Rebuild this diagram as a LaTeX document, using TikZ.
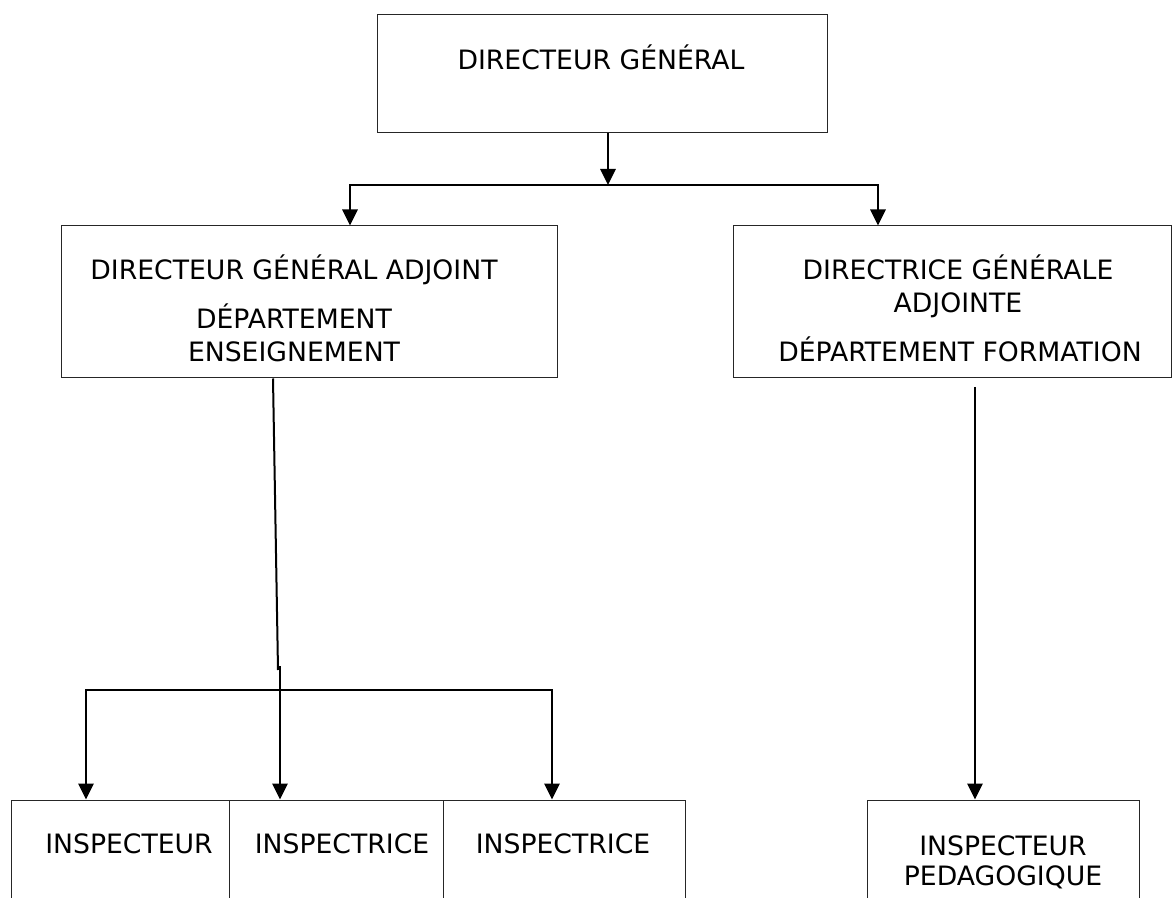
\documentclass[tikz,border=0pt]{standalone}
\usepackage{fontspec}
\newfontfamily\orgfont{DejaVu Sans}
\usetikzlibrary{arrows.meta}
\usetikzlibrary{calc}
\usetikzlibrary{positioning}

\begin{document}
\begin{tikzpicture}[
		% pixel units, y pointing down
		x={(0.75pt,0pt)},
		y={(0pt,-0.75pt)},
		box/.style={draw=black!85, line width=0.75pt, inner sep=0pt, rectangle},
		lbl/.style={anchor=base, inner sep=0pt, font=\orgfont\fontsize{20}{24}\selectfont},
		wire/.style={line width=1.5pt, black},
		arr/.style={wire, -{Triangle[length=12pt,width=11.5pt]}}
	]

	\useasboundingbox (0,0) rectangle (1172,898);
	\clip (0,0) rectangle (1172,898);

	%-------------------
	% Boxes
	%-------------------
	\node[box, minimum width=337.5pt, minimum height=88.5pt] (dg) at (602,74) {};
	\node[box, minimum width=372pt, minimum height=114pt] (dga) at (309,302) {};
	\node[box, minimum width=328.5pt, minimum height=114pt] (dgf) at (952,302) {};

	% bottom row (cut by the page edge)
	\foreach \n/\x/\w in {i1/120/163.5, i2/336/160.5, i3/564/181.5, ip/1003/204}{
			\node[box, minimum width=\w pt, minimum height=150pt] (\n) at (\x,900) {};
		}

	%-------------------
	% Labels
	%-------------------
	\node[lbl] (tdg) at (601,70) {DIRECTEUR GÉNÉRAL};

	\node[lbl] (tdga1) at (294,280) {DIRECTEUR GÉNÉRAL ADJOINT};
	\node[lbl] (tdga2) at (294,329) {DÉPARTEMENT};
	\node[lbl] (tdga3) at (294,362) {ENSEIGNEMENT};

	\node[lbl] (tdgf1) at (958,280) {DIRECTRICE GÉNÉRALE};
	\node[lbl] (tdgf2) at (958,313) {ADJOINTE};
	\node[lbl] (tdgf3) at (960,362) {DÉPARTEMENT FORMATION};

	\node[lbl] (ti1) at (129,853) {INSPECTEUR};
	\node[lbl] (ti2) at (342,853) {INSPECTRICE};
	\node[lbl] (ti3) at (563,853) {INSPECTRICE};
	\node[lbl] (tip1) at (1003,855) {INSPECTEUR};
	\node[lbl] (tip2) at (1003,885) {PEDAGOGIQUE};

	%-------------------
	% Connectors
	%-------------------
	\coordinate (bus) at (608,185);
	\coordinate (busL) at (350,185);
	\coordinate (busR) at (878,185);
	\draw[arr] (dg.south -| bus) -- (bus);
	\draw[arr] (busR) -| (busL |- dga.north);
	\draw[arr] (busL) -| (busR |- dgf.north);

	% left branch
	\coordinate (kink) at (278,670);
	\coordinate (drop) at (280,666);
	\coordinate (bus2L) at (86,690);
	\coordinate (bus2R) at (552,690);
	\draw[wire] ($(dga.south)+(-36,0)$) -- (kink);
	\draw[arr] (drop) -- (drop |- i2.north);
	\draw[arr] (bus2R) -| (bus2L |- i1.north);
	\draw[arr] (bus2L) -| (bus2R |- i3.north);

	% right branch
	\coordinate (k3) at (975,387);
	\draw[arr] (k3) -- (k3 |- ip.north);

\end{tikzpicture}
\end{document}
